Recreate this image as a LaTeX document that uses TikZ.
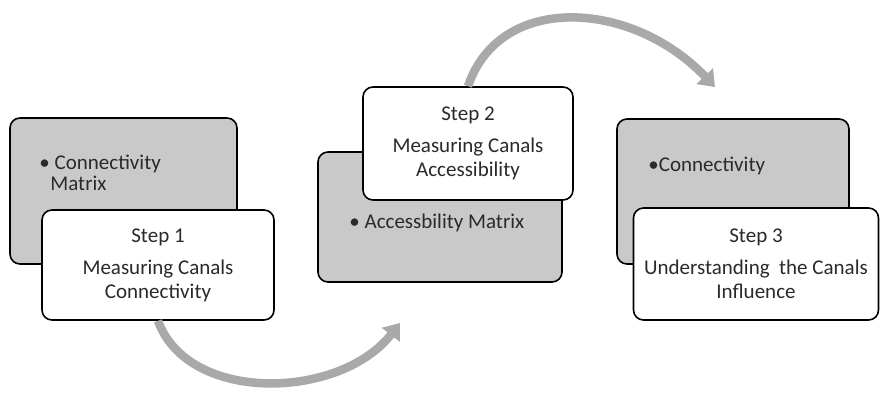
\documentclass[tikz,border=0pt]{standalone}
\usepackage{fontspec}
\setmainfont{Carlito}
\usetikzlibrary{positioning,arrows.meta}
\definecolor{boxgray}{HTML}{C9C9C9}
\definecolor{arrowgray}{HTML}{A9A9A9}
\definecolor{textgray}{HTML}{2A2A2A}
\begin{document}
\begin{tikzpicture}[x=1pt,y=1pt,
	backbox/.style={draw=black,line width=1.6pt,rounded corners=10pt,fill=boxgray},
	frontbox/.style={draw=black,line width=1.6pt,rounded corners=10pt,fill=white,
		text=textgray,align=center,font=\fontsize{21}{24}\selectfont},
	bullettext/.style={text=textgray,align=left,inner sep=0pt,font=\fontsize{21}{21}\selectfont},
	bigarrow/.style={draw=arrowgray,line width=8.5pt,-{Triangle[width=22pt,length=15pt]}}]

	\useasboundingbox (0,0) rectangle (881,392);

	%------------------------------------------------------
	\node[backbox,minimum width=227pt,minimum height=146pt] (g1) at (123.5,201) {};
	\node[bullettext,below right=38pt and 30pt of g1.north west] (t1) {• Connectivity\\[0pt]\hspace*{11pt}Matrix};
	\node[frontbox,minimum width=232pt,minimum height=110pt] (s1) at (158,127)
		{Step 1\\[8pt]Measuring Canals\\Connectivity};
	%------------------------------------------------------


	%------------------------------------------------------
	\node[backbox,minimum width=244pt,minimum height=130pt] (g2) at (440,175) {};
	\node[bullettext,below right=63pt and 32pt of g2.north west] (t2) {• Accessbility Matrix};
	\node[frontbox,minimum width=210pt,minimum height=113pt] (s2) at (468,248.5)
		{Step 2\\[8pt]Measuring Canals\\Accessibility};
	%------------------------------------------------------


	%------------------------------------------------------
	\node[backbox,minimum width=232pt,minimum height=145pt] (g3) at (733,200.5) {};
	\node[bullettext,below right=39pt and 32pt of g3.north west] (t3) {•Connectivity};
	\node[frontbox,minimum width=245pt,minimum height=112pt] (s3) at (756,128)
		{Step 3\\[8pt]Understanding~ the Canals\\Influence};
	%------------------------------------------------------


	%------------------------------------------------------
	\coordinate (e1) at (400,69);
	\coordinate (e2) at (715,305);
	\draw[bigarrow] (s1.south) .. controls (188,-12) and (340,-8) .. (e1);
	\draw[bigarrow] (s2.north) .. controls (500,400) and (632,392) .. (e2);
	%------------------------------------------------------

\end{tikzpicture}
\end{document}
